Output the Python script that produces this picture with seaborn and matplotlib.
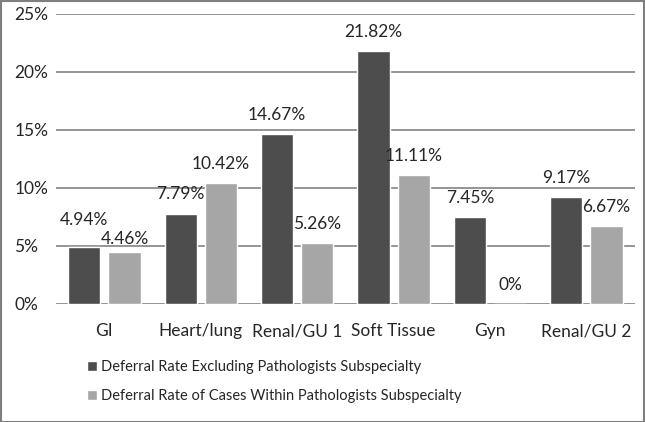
import numpy as np
import pandas as pd
import seaborn as sns
import matplotlib.pyplot as plt
from matplotlib.ticker import FuncFormatter

# Data
categories = ["GI", "Heart/lung", "Renal/GU 1", "Soft Tissue", "Gyn", "Renal/GU 2"]
excluding = [4.94, 7.79, 14.67, 21.82, 7.45, 9.17]
within = [4.46, 10.42, 5.26, 11.11, 0.0, 6.67]
series = ["Deferral Rate Excluding Pathologists Subspecialty",
          "Deferral Rate of Cases Within Pathologists Subspecialty"]
y_ticks = [0, 5, 10, 15, 20, 25]

df = pd.DataFrame({
    "Category": categories * 2,
    "Rate": excluding + within,
    "Series": [series[0]] * len(categories) + [series[1]] * len(categories),
})

sns.set_style("white")
plt.rcParams['font.family'] = ['Lato', 'DejaVu Sans']
text_color = "#262626"
fs = 12.5

fig = plt.figure(figsize=(6.45, 4.22), dpi=100)
ax = fig.add_axes([0.087, 0.28, 0.897, 0.687])

sns.barplot(data=df, x="Category", y="Rate", hue="Series", order=categories,
            hue_order=series, palette=["#4d4d4d", "#a6a6a6"], width=0.835, gap=0.2,
            saturation=1, ax=ax, zorder=3)

# value labels (the two GI labels are staggered in the original so they don't collide)
pad_override = {(0, "GI"): 13, (1, "GI"): 4}
for si, cont in enumerate(ax.containers):
    for cat, bar, v in zip(categories, cont, cont.datavalues):
        pad = pad_override.get((si, cat), 8)
        ax.annotate(f"{v:g}%", (bar.get_x() + bar.get_width() / 2, bar.get_height()),
                    xytext=(0, pad), textcoords="offset points", ha="center", va="bottom",
                    fontsize=fs, color=text_color)

ax.set_ylim(0, 25)
ax.set_yticks(y_ticks)
ax.yaxis.set_major_formatter(FuncFormatter(lambda v, p: f"{v:.0f}%"))
ax.grid(axis="y", color="#8c8c8c", linewidth=1.3, zorder=0)
for s in ax.spines.values():
    s.set_visible(False)
ax.tick_params(axis="both", length=0, labelsize=fs, colors=text_color)
ax.tick_params(axis="x", pad=14)
ax.tick_params(axis="y", pad=30)
for lbl in ax.get_yticklabels():
    lbl.set_horizontalalignment("left")
ax.set_xlabel("")
ax.set_ylabel("")

leg = ax.legend(loc="upper left", bbox_to_anchor=(0.03, -0.15), frameon=False,
                fontsize=10.5, handlelength=0.7, handleheight=0.7, handletextpad=0.3,
                labelspacing=1.0, labelcolor=text_color)

# outer frame
fig.patches.append(plt.Rectangle((0.001, 0.001), 0.997, 0.997, transform=fig.transFigure,
                                 fill=False, edgecolor="#7f7f7f", linewidth=1.5))

fig.savefig("out.png", dpi=100)
